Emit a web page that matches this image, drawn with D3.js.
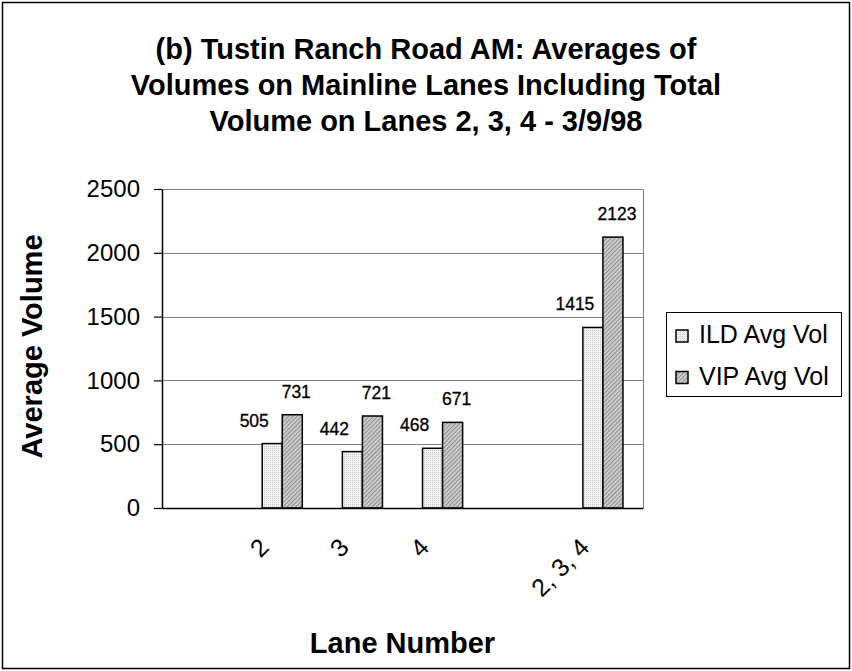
<!DOCTYPE html>
<html>
<head>
<meta charset="utf-8">
<script src="https://cdn.jsdelivr.net/npm/d3@7/dist/d3.min.js"></script>
<style>
  html, body { margin: 0; padding: 0; background: #fff; }
  svg { display: block; font-family: "Liberation Sans", Arial, sans-serif; }
</style>
</head>
<body>
<svg id="chart" width="852" height="671"></svg>
<script>
// Lane categories along the x axis (blank slots keep the gaps between groups)
const categories = ["", "2", "3", "4", "", "2, 3, 4"];
// Average volumes per lane for each detector type
const ildAvgVol = [null, 505, 442, 468, null, 1415];
const vipAvgVol = [null, 731, 721, 671, null, 2123];
const seriesNames = ["ILD Avg Vol", "VIP Avg Vol"];
const yTicks = [0, 500, 1000, 1500, 2000, 2500];
const titleLines = [
  "(b) Tustin Ranch Road AM: Averages of",
  "Volumes on Mainline Lanes Including Total",
  "Volume on Lanes 2, 3, 4 - 3/9/98"
];
const xTitle = "Lane Number";
const yTitle = "Average Volume";

const W = 852, H = 671;
const plot = { left: 162, right: 643, top: 189, bottom: 508 };

const svg = d3.select("#chart");

// Fill patterns: fine stipple for ILD, diagonal hatch for VIP
const defs = svg.append("defs");
const pIld = defs.append("pattern").attr("id", "fillIld")
  .attr("patternUnits", "userSpaceOnUse").attr("width", 2).attr("height", 2);
pIld.append("rect").attr("width", 2).attr("height", 2).attr("fill", "#f2f2f2");
pIld.append("rect").attr("width", 1).attr("height", 1).attr("fill", "#c8c8c8");

const pVip = defs.append("pattern").attr("id", "fillVip")
  .attr("patternUnits", "userSpaceOnUse").attr("width", 3).attr("height", 3)
  .attr("patternTransform", "rotate(45)");
pVip.append("rect").attr("width", 3).attr("height", 3).attr("fill", "#cdcdcd");
pVip.append("rect").attr("width", 1).attr("height", 3).attr("fill", "#8e8e8e");

const fills = ["url(#fillIld)", "url(#fillVip)"];

// Outer frame
svg.append("rect")
  .attr("x", 2.5).attr("y", 2.5).attr("width", W - 5).attr("height", H - 5)
  .attr("fill", "#fff").attr("stroke", "#000").attr("stroke-width", 1.5);

// Title
svg.append("g").selectAll("text").data(titleLines).join("text")
  .attr("x", W / 2).attr("y", (d, i) => 59 + i * 36)
  .attr("text-anchor", "middle")
  .attr("font-size", 29).attr("font-weight", "bold").attr("fill", "#000")
  .text(d => d);

// Scales
const x = d3.scaleBand()
  .domain(d3.range(categories.length))
  .range([plot.left, plot.right])
  .paddingInner(0.5).paddingOuter(0.25);
const xs = d3.scaleBand().domain([0, 1]).range([0, x.bandwidth()]);
const y = d3.scaleLinear().domain([0, 2500]).range([plot.bottom, plot.top]);

// Gridlines and plot border
svg.append("g").selectAll("line").data(yTicks.filter(v => v > 0)).join("line")
  .attr("x1", plot.left).attr("x2", plot.right)
  .attr("y1", d => Math.round(y(d)) + 0.5).attr("y2", d => Math.round(y(d)) + 0.5)
  .attr("stroke", "#808080").attr("stroke-width", 1);
svg.append("line")
  .attr("x1", plot.right + 0.5).attr("x2", plot.right + 0.5)
  .attr("y1", Math.round(y(2500)) + 0.5).attr("y2", plot.bottom)
  .attr("stroke", "#808080").attr("stroke-width", 1);

// Bars
const series = [ildAvgVol, vipAvgVol];
const barData = [];
series.forEach((vals, s) => vals.forEach((v, i) => {
  if (v != null) barData.push({ s, i, v });
}));

svg.append("g").selectAll("rect").data(barData).join("rect")
  .attr("x", d => x(d.i) + xs(d.s))
  .attr("y", d => y(d.v))
  .attr("width", xs.bandwidth())
  .attr("height", d => y(0) - y(d.v))
  .attr("fill", d => fills[d.s])
  .attr("stroke", "#000").attr("stroke-width", 1.5);

// Value labels
const labelDx = [-18, 4];
svg.append("g").selectAll("text").data(barData).join("text")
  .attr("x", d => x(d.i) + xs(d.s) + xs.bandwidth() / 2 + labelDx[d.s])
  .attr("y", d => y(d.v) - 17)
  .attr("text-anchor", "middle")
  .attr("font-size", 17.5).attr("fill", "#000")
  .attr("stroke", "#000").attr("stroke-width", 0.3)
  .text(d => d.v);

// Y axis
const yAxis = svg.append("g")
  .attr("transform", `translate(${plot.left},0)`)
  .call(d3.axisLeft(y).tickValues(yTicks).tickFormat(d3.format("d"))
    .tickSize(8).tickPadding(14).tickSizeOuter(0));
yAxis.select(".domain").attr("stroke", "#000").attr("stroke-width", 1.5);
yAxis.selectAll(".tick line").attr("stroke", "#000").attr("stroke-width", 1.2);
yAxis.selectAll(".tick text")
  .attr("font-size", 24).attr("font-family", "Liberation Sans, Arial, sans-serif")
  .attr("fill", "#000");

// X axis
const xAxis = svg.append("g")
  .attr("transform", `translate(0,${plot.bottom})`)
  .call(d3.axisBottom(x).tickFormat(i => categories[i]).tickSize(0).tickSizeOuter(0));
xAxis.select(".domain").attr("stroke", "#000").attr("stroke-width", 1.5);
xAxis.selectAll(".tick text")
  .attr("x", 0).attr("y", 0).attr("dy", null)
  .attr("transform", "translate(-12,41) rotate(-45)")
  .attr("text-anchor", "end")
  .attr("font-size", 25).attr("font-family", "Liberation Sans, Arial, sans-serif")
  .attr("fill", "#000");

// Axis titles
svg.append("text")
  .attr("x", (plot.left + plot.right) / 2).attr("y", 653)
  .attr("text-anchor", "middle")
  .attr("font-size", 29).attr("font-weight", "bold").attr("fill", "#000")
  .text(xTitle);
svg.append("text")
  .attr("transform", `translate(42,${(plot.top + plot.bottom) / 2 - 2}) rotate(-90)`)
  .attr("text-anchor", "middle")
  .attr("font-size", 29).attr("font-weight", "bold").attr("fill", "#000")
  .text(yTitle);

// Legend
const legend = svg.append("g");
legend.append("rect")
  .attr("x", 666.5).attr("y", 312.5).attr("width", 175).attr("height", 84)
  .attr("fill", "#fff").attr("stroke", "#000").attr("stroke-width", 1);
const items = legend.selectAll("g.item").data(seriesNames).join("g")
  .attr("class", "item")
  .attr("transform", (d, i) => `translate(0,${i * 41.5})`);
items.append("rect")
  .attr("x", 676).attr("y", 330).attr("width", 12).attr("height", 12)
  .attr("fill", (d, i) => fills[i]).attr("stroke", "#000").attr("stroke-width", 1.5);
items.append("text")
  .attr("x", 699).attr("y", 343)
  .attr("font-size", 25).attr("fill", "#000")
  .text(d => d);
</script>
</body>
</html>
